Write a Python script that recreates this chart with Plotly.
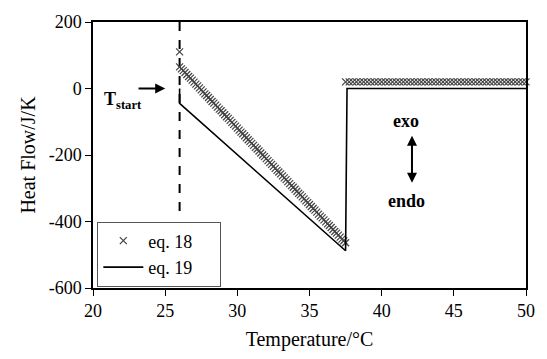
import plotly.graph_objects as go

# ---- data ----
# eq. 18 : isolated start point, descending ramp, then flat plateau (x markers)
eq18_start_x = [26.0]
eq18_start_y = [110]
eq18_ramp_x = [26.0, 26.125, 26.25, 26.375, 26.5, 26.625, 26.75, 26.875,
               27.0, 27.125, 27.25, 27.375, 27.5, 27.625, 27.75, 27.875,
               28.0, 28.125, 28.25, 28.375, 28.5, 28.625, 28.75, 28.875,
               29.0, 29.125, 29.25, 29.375, 29.5, 29.625, 29.75, 29.875,
               30.0, 30.125, 30.25, 30.375, 30.5, 30.625, 30.75, 30.875,
               31.0, 31.125, 31.25, 31.375, 31.5, 31.625, 31.75, 31.875,
               32.0, 32.125, 32.25, 32.375, 32.5, 32.625, 32.75, 32.875,
               33.0, 33.125, 33.25, 33.375, 33.5, 33.625, 33.75, 33.875,
               34.0, 34.125, 34.25, 34.375, 34.5, 34.625, 34.75, 34.875,
               35.0, 35.125, 35.25, 35.375, 35.5, 35.625, 35.75, 35.875,
               36.0, 36.125, 36.25, 36.375, 36.5, 36.625, 36.75, 36.875,
               37.0, 37.125, 37.25, 37.375, 37.5]
eq18_ramp_y = [65, 59, 54, 48, 42, 36, 31, 25,
               19, 13, 8, 2, -4, -10, -16, -21,
               -27, -33, -39, -44, -50, -56, -62, -67,
               -73, -79, -85, -90, -96, -102, -108, -113,
               -119, -125, -131, -136, -142, -148, -154, -159,
               -165, -171, -177, -182, -188, -194, -200, -205,
               -211, -217, -223, -228, -234, -240, -246, -251,
               -257, -263, -269, -274, -280, -286, -292, -297,
               -303, -309, -315, -320, -326, -332, -338, -343,
               -349, -355, -361, -366, -372, -378, -384, -389,
               -395, -401, -407, -412, -418, -424, -430, -435,
               -441, -447, -453, -458, -464]
eq18_flat_x = [37.5, 37.75, 38.0, 38.25, 38.5, 38.75, 39.0, 39.25, 39.5, 39.75,
               40.0, 40.25, 40.5, 40.75, 41.0, 41.25, 41.5, 41.75, 42.0, 42.25,
               42.5, 42.75, 43.0, 43.25, 43.5, 43.75, 44.0, 44.25, 44.5, 44.75,
               45.0, 45.25, 45.5, 45.75, 46.0, 46.25, 46.5, 46.75, 47.0, 47.25,
               47.5, 47.75, 48.0, 48.25, 48.5, 48.75, 49.0, 49.25, 49.5, 49.75, 50.0]
eq18_flat_y = [20, 20, 20, 20, 20, 20, 20, 20, 20, 20,
               20, 20, 20, 20, 20, 20, 20, 20, 20, 20,
               20, 20, 20, 20, 20, 20, 20, 20, 20, 20,
               20, 20, 20, 20, 20, 20, 20, 20, 20, 20,
               20, 20, 20, 20, 20, 20, 20, 20, 20, 20, 20]

# eq. 19 : solid line
eq19_x = [26.0, 26.0, 37.5, 37.6, 50.0]
eq19_y = [0, -45, -488, 0, 0]

# T_start dashed marker line
tstart_x = [26.0, 26.0]
tstart_y = [200, -378]

x_ticks = [20, 25, 30, 35, 40, 45, 50]
y_ticks = [-600, -400, -200, 0, 200]

FONT = "Liberation Serif, Times New Roman, DejaVu Serif, serif"
NB = "\u00a0"

eq18_x = eq18_start_x + eq18_ramp_x + eq18_flat_x
eq18_y = eq18_start_y + eq18_ramp_y + eq18_flat_y

fig = go.Figure()

fig.add_trace(go.Scatter(
    x=tstart_x, y=tstart_y, mode="lines",
    line=dict(color="black", width=2, dash="dash"),
    showlegend=False, hoverinfo="skip"))

fig.add_trace(go.Scatter(
    x=eq18_x, y=eq18_y, mode="markers", name="eq. 18" + NB * 5,
    marker=dict(symbol="x-thin", size=7, color="#444",
                line=dict(color="#444", width=1.2)),
    cliponaxis=False))

fig.add_trace(go.Scatter(
    x=eq19_x, y=eq19_y, mode="lines", name="eq. 19" + NB * 5,
    line=dict(color="black", width=1.6)))

# annotations
fig.add_annotation(x=22.1, y=-35, text="<b>T<sub>start</sub></b>", showarrow=False,
                   font=dict(family=FONT, size=18, color="black"))
fig.add_annotation(x=25.0, y=0, ax=23.05, ay=0, axref="x", ayref="y",
                   text="", showarrow=True, arrowhead=2, arrowsize=1, arrowwidth=2,
                   arrowcolor="black")
fig.add_annotation(x=41.7, y=-97, text="<b>exo</b>", showarrow=False,
                   font=dict(family=FONT, size=18, color="black"))
fig.add_annotation(x=41.7, y=-338, text="<b>endo</b>", showarrow=False,
                   font=dict(family=FONT, size=18, color="black"))
fig.add_annotation(x=42.1, y=-142, ax=42.1, ay=-288, axref="x", ayref="y",
                   text="", showarrow=True, arrowhead=2, arrowside="end+start",
                   arrowsize=1, arrowwidth=2, arrowcolor="black")

fig.update_xaxes(
    range=[20, 50], tickvals=x_ticks, ticktext=[str(v) for v in x_ticks],
    showgrid=False, zeroline=False, showline=True, linecolor="black", linewidth=1.5,
    mirror=True, ticks="outside", ticklen=6, tickcolor="black", tickwidth=1,
    tickfont=dict(family=FONT, size=18, color="black"),
    title=dict(text="Temperature/°C", font=dict(family=FONT, size=20, color="black"),
               standoff=12))
fig.update_yaxes(
    range=[-600, 200], tickvals=y_ticks, ticktext=[str(v) for v in y_ticks],
    showgrid=False, zeroline=False, showline=True, linecolor="black", linewidth=1.5,
    mirror=True, ticks="outside", ticklen=6, tickcolor="black", tickwidth=1,
    tickfont=dict(family=FONT, size=18, color="black"),
    title=dict(text="Heat Flow/J/K", font=dict(family=FONT, size=20, color="black"),
               standoff=8))

fig.update_layout(
    width=547, height=359,
    margin=dict(l=93, r=12, t=18, b=70),
    paper_bgcolor="white", plot_bgcolor="white",
    font=dict(family=FONT, size=18, color="black"),
    showlegend=True,
    legend=dict(x=0.01, y=0.25, xanchor="left", yanchor="top",
                bgcolor="white", bordercolor="#555", borderwidth=1,
                font=dict(family=FONT, size=18, color="black"),
                tracegroupgap=0, itemwidth=40),
)

fig.write_html("out.html")
